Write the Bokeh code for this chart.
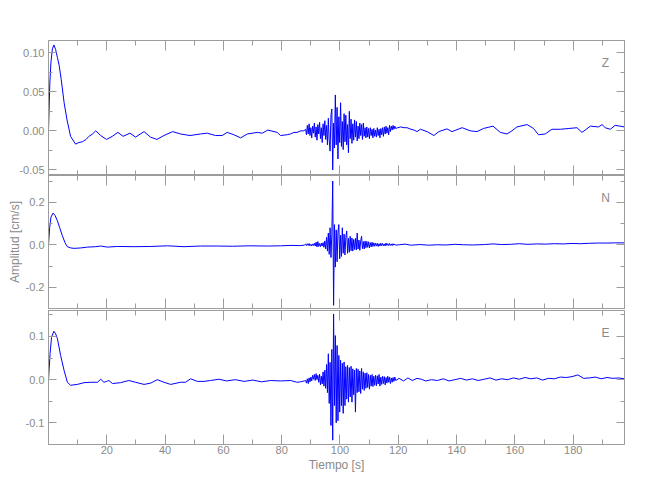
from bokeh.plotting import figure
from bokeh.layouts import column
from bokeh.models import (Range1d, LinearAxis, SingleIntervalTicker, PrintfTickFormatter,
                          CustomJSTickFormatter, Label)
from bokeh.embed import file_html
from bokeh.resources import INLINE

TITLE = "SISH"
X_LABEL = "Tiempo [s]"
Y_LABEL = "Amplitud [cm/s]"
COMPONENTS = ["Z", "N", "E"]

# ---- shared burst time samples (s) ----
burst_t = [88.2, 88.5, 88.8, 89.1, 89.4, 89.7, 90.0, 90.3, 90.6, 90.9,
           91.2, 91.5, 91.8, 92.1, 92.4, 92.7, 93.0, 93.3, 93.6, 93.9,
           94.2, 94.5, 94.8, 95.1, 95.4, 95.7, 96.0, 96.3, 96.6, 96.9,
           97.2, 97.5, 97.8, 98.1, 98.4, 98.7, 99.0, 99.3, 99.6, 99.9,
           100.2, 100.5, 100.8, 101.1, 101.4, 101.7, 102.0, 102.3, 102.6, 102.9,
           103.2, 103.5, 103.8, 104.1, 104.4, 104.7, 105.0, 105.3, 105.6, 105.9,
           106.2, 106.5, 106.8, 107.1, 107.4, 107.7, 108.0, 108.3, 108.6, 108.9,
           109.2, 109.5, 109.8, 110.1, 110.4, 110.7, 111.0, 111.3, 111.6, 111.9,
           112.2, 112.5, 112.8, 113.1, 113.4, 113.7, 114.0, 114.3, 114.6, 114.9,
           115.2, 115.5, 115.8, 116.1, 116.4, 116.7, 117.0, 117.3, 117.6, 117.9,
           118.2, 118.5, 118.8, 119.1]

# ---- Z component ----
z_pre_t = [0.0, 0.44, 0.84, 1.34, 1.85, 2.45, 3.05, 3.65, 4.36, 5.36, 6.36, 7.57, 9.28, 10.38,
           11.59, 12.89, 13.9, 15.1, 16.2, 17.9, 19.9, 21.9, 23.8, 25.6, 27.95, 29.86, 32.77,
           34.98, 37.19, 39.6, 42.6, 45.3, 48.54, 52.15, 54.46, 57.27, 59.58, 61.29, 63.6,
           65.9, 68.22, 71.63, 73.34, 75.25, 78.46, 79.57, 81.88, 82.98, 84.2, 85.3, 86.6, 87.6]
z_pre_v = [0.0, 0.06, 0.088, 0.105, 0.110, 0.104, 0.094, 0.084, 0.066, 0.036, 0.014, -0.007,
           -0.017, -0.015, -0.014, -0.011, -0.007, -0.004, 0.0, -0.006, -0.011, -0.007, -0.002,
           -0.007, -0.003, -0.008, -0.001, -0.008, -0.011, -0.006, -0.001, -0.004, -0.006,
           -0.004, -0.003, -0.006, -0.006, -0.002, -0.005, -0.009, -0.004, -0.002, -0.003,
           0.001, -0.002, -0.006, -0.005, -0.004, -0.002, -0.002, 0.0, 0.0]
z_burst_v = [0.002, -0.005, 0.007, -0.004, 0.009, -0.006, 0.004, -0.009, 0.006, -0.003,
             0.010, -0.008, 0.005, -0.012, 0.008, -0.004, 0.011, -0.010, 0.004, -0.015,
             0.009, -0.006, 0.013, -0.011, 0.007, -0.018, 0.016, -0.012, -0.026, 0.020,
             0.028, -0.050, 0.010, -0.022, 0.046, -0.018, 0.030, -0.036, 0.018, -0.015,
             0.036, -0.020, 0.012, -0.024, 0.022, -0.014, 0.020, -0.018, 0.008, -0.028,
             0.025, -0.010, 0.015, -0.016, 0.009, -0.012, 0.014, -0.008, 0.012, -0.013,
             0.006, -0.010, 0.010, -0.006, 0.008, -0.011, 0.010, -0.007, 0.004, -0.009,
             0.005, -0.008, 0.003, -0.010, 0.004, -0.006, 0.002, -0.009, 0.003, -0.007,
             0.001, -0.008, 0.004, -0.006, 0.002, -0.009, 0.003, -0.005, 0.004, -0.007,
             0.005, -0.004, 0.006, -0.003, 0.004, -0.005, 0.007, -0.001, 0.006, 0.001,
             0.007, 0.002, 0.006, 0.003]
z_post_t = [119.8, 120.8, 122.0, 123.0, 124.35, 125.4, 126.4, 127.6, 129.9, 132.2, 133.9,
            136.7, 138.4, 141.9, 144.7, 147.0, 149.2, 152.5, 155.0, 157.3, 159.0, 160.7,
            164.2, 166.4, 168.1, 170.4, 172.7, 175.6, 178.5, 181.3, 183.0, 185.9, 188.7,
            189.9, 191.0, 192.7, 194.4, 196.1, 197.5]
z_post_v = [0.004, 0.005, 0.004, 0.004, 0.002, 0.001, -0.001, 0.002, -0.001, -0.006, -0.001,
            0.0025, -0.001, 0.004, 0.0, -0.001, 0.003, 0.006, -0.002, -0.004, 0.0, 0.005,
            0.008, 0.003, -0.005, -0.004, 0.002, 0.002, 0.003, 0.004, -0.002, 0.006, 0.005,
            0.008, 0.004, 0.002, 0.007, 0.006, 0.005]

# ---- N component ----
n_pre_t = [0.0, 0.4, 0.84, 1.55, 2.25, 3.05, 3.85, 4.76, 5.66, 6.46, 7.67, 8.77, 11.08, 13.39,
           16.2, 17.9, 20.2, 23.6, 29.4, 35.1, 40.8, 46.5, 52.2, 57.9, 63.1, 69.1, 75.1, 79.6,
           83.2, 86.2, 87.7]
n_pre_v = [0.0, 0.08, 0.13, 0.149, 0.138, 0.113, 0.08, 0.042, 0.01, -0.009, -0.015, -0.017,
           -0.015, -0.011, -0.009, -0.006, -0.011, -0.008, -0.009, -0.008, -0.005, -0.009,
           -0.006, -0.006, -0.007, -0.005, -0.006, -0.005, -0.003, -0.004, -0.002]
n_burst_v = [0.003, -0.004, 0.005, -0.003, 0.006, -0.005, 0.002, -0.006, 0.004, -0.003,
             0.007, -0.006, 0.012, -0.010, 0.015, -0.008, 0.006, -0.009, 0.008, -0.006,
             0.010, -0.012, 0.018, -0.020, 0.035, -0.030, 0.055, -0.045, 0.080, -0.060,
             0.050, 0.300, -0.285, 0.095, -0.105, 0.070, -0.080, 0.060, 0.095, -0.066,
             0.045, -0.055, 0.080, -0.040, 0.050, -0.048, 0.035, 0.065, -0.040, 0.030,
             -0.035, 0.040, -0.028, 0.032, -0.030, 0.025, -0.022, 0.030, -0.025, 0.055,
             -0.020, 0.022, -0.026, 0.018, 0.040, -0.018, 0.015, -0.020, 0.018, -0.014,
             0.016, -0.012, 0.014, -0.015, 0.010, -0.010, 0.012, -0.008, 0.009, -0.007,
             0.008, -0.006, 0.007, -0.008, 0.005, -0.006, 0.007, -0.004, 0.006, -0.005,
             0.004, -0.006, 0.008, -0.003, 0.005, -0.004, 0.006, -0.003, 0.004, -0.004,
             0.005, -0.002, 0.003, -0.002]
n_post_t = [120.3, 122.3, 124.3, 127.4, 130.4, 133.4, 136.4, 139.4, 142.4, 145.4, 149.5,
            152.5, 155.5, 158.5, 161.5, 164.5, 167.5, 170.5, 173.5, 176.6, 179.6, 182.6,
            185.6, 188.6, 191.6, 194.6, 197.5]
n_post_v = [0.0, 0.003, -0.002, 0.001, -0.002, 0.0, -0.001, 0.002, 0.0, -0.001, 0.001, 0.004,
            0.001, 0.002, 0.005, 0.002, 0.004, 0.003, 0.005, 0.004, 0.006, 0.005, 0.007,
            0.008, 0.008, 0.009, 0.009]

# ---- E component ----
e_pre_t = [0.0, 0.54, 1.04, 1.85, 2.45, 3.05, 4.16, 5.36, 6.47, 7.57, 9.88, 12.19, 14.5,
           16.81, 17.91, 19.02, 19.92, 20.72, 21.93, 24.74, 27.55, 29.86, 32.77, 35.08,
           37.29, 39.6, 41.91, 45.33, 47.03, 48.74, 51.05, 53.36, 55.57, 58.48, 61.09, 64.1,
           67.1, 70.1, 73.1, 76.2, 79.6, 83.1, 85.2, 86.5, 87.7]
e_pre_v = [0.0, 0.06, 0.098, 0.112, 0.106, 0.095, 0.056, 0.021, -0.006, -0.013, -0.011,
           -0.007, -0.006, -0.006, 0.001, -0.006, -0.004, -0.002, -0.009, -0.007, -0.002,
           -0.006, -0.011, -0.008, 0.0, -0.006, -0.011, -0.006, -0.006, 0.002, -0.004,
           -0.004, -0.002, 0.001, -0.003, 0.0, -0.004, -0.001, -0.005, -0.002, -0.003,
           -0.002, -0.006, -0.005, -0.003]
e_burst_v = [-0.002, -0.008, 0.002, -0.009, 0.004, -0.005, 0.006, -0.003, 0.010, 0.001,
             0.012, -0.002, 0.014, 0.000, 0.010, -0.006, 0.013, -0.012, 0.008, -0.010,
             0.018, -0.015, 0.022, -0.020, 0.035, -0.030, 0.060, -0.055, 0.040, -0.106,
             0.070, -0.140, 0.152, -0.060, 0.102, -0.100, 0.079, -0.095, 0.056, -0.075,
             0.045, -0.060, 0.038, -0.078, 0.041, -0.060, 0.030, -0.045, 0.033, -0.052,
             0.028, -0.040, 0.031, -0.052, 0.025, -0.035, 0.022, -0.075, 0.026, -0.030,
             0.024, -0.028, 0.020, -0.032, 0.026, -0.022, 0.018, -0.025, 0.015, -0.020,
             0.016, -0.018, 0.012, -0.022, 0.010, -0.015, 0.012, -0.016, 0.008, -0.013,
             0.010, -0.014, 0.009, -0.010, 0.012, -0.015, 0.006, -0.011, 0.008, -0.009,
             0.007, -0.012, 0.005, -0.008, 0.008, -0.006, 0.006, -0.009, 0.004, -0.006,
             0.005, -0.004, 0.006, -0.002]
e_post_t = [120.3, 121.8, 123.3, 124.8, 126.4, 127.9, 129.4, 131.4, 133.4, 135.4, 137.4,
            139.4, 141.4, 143.4, 145.4, 147.4, 149.5, 151.5, 153.5, 155.5, 157.5, 159.5,
            161.5, 163.5, 165.5, 167.5, 169.5, 171.5, 173.5, 175.6, 177.6, 179.6, 181.6,
            183.6, 185.6, 187.6, 189.6, 191.6, 193.6, 195.6, 197.5]
e_post_v = [0.003, -0.003, 0.004, -0.002, 0.003, 0.001, -0.003, 0.0, -0.002, 0.002, -0.003,
            0.0, 0.003, -0.001, 0.002, -0.002, 0.001, 0.004, -0.001, 0.002, 0.0, 0.004, 0.001,
            0.005, 0.002, 0.004, -0.001, 0.003, 0.002, 0.006, 0.005, 0.007, 0.011, 0.003,
            0.004, 0.006, 0.002, 0.005, 0.003, 0.004, 0.002]

X_RANGE = (0.0, 197.6)
Y_RANGES = {"Z": (-0.0572, 0.1157), "N": (-0.300, 0.326), "E": (-0.150, 0.160)}
Y_STEPS = {"Z": 0.05, "N": 0.2, "E": 0.1}
Y_FORMATS = {"Z": "%.2f", "N": "%.1f", "E": "%.1f"}

AXIS_COLOR = "#9c9c9c"
TEXT_COLOR = "#8a8a8a"
LINE_COLOR = "#0000ff"
FONT = "Liberation Sans"

traces = {
    "Z": (z_pre_t + burst_t + z_post_t, z_pre_v + z_burst_v + z_post_v),
    "N": (n_pre_t + burst_t + n_post_t, n_pre_v + n_burst_v + n_post_v),
    "E": (e_pre_t + burst_t + e_post_t, e_pre_v + e_burst_v + e_post_v),
}

FRAME_W = 576
LEFT = 48
RIGHT = 18
# frame height, top border, bottom border for each panel
GEOM = {"Z": (135, 40, 0), "N": (133, 0, 2), "E": (134, 0, 40)}


def make_axis(ticker, formatter, show, tick_in, minor_in):
    ax = LinearAxis(ticker=ticker,
                    formatter=formatter if show else CustomJSTickFormatter(code="return ''"))
    ax.axis_line_color = AXIS_COLOR
    ax.major_tick_line_color = AXIS_COLOR
    ax.minor_tick_line_color = AXIS_COLOR
    ax.major_tick_in = tick_in
    ax.major_tick_out = 0
    ax.minor_tick_in = minor_in
    ax.minor_tick_out = 0
    ax.major_label_text_color = TEXT_COLOR
    ax.major_label_text_font = FONT
    ax.major_label_text_font_size = "11px" if show else "0px"
    ax.major_label_standoff = 4 if show else 0
    return ax


figs = []
for comp in COMPONENTS:
    fh, top, bottom = GEOM[comp]
    p = figure(width=LEFT + FRAME_W + RIGHT, height=top + fh + bottom,
               x_range=Range1d(*X_RANGE), y_range=Range1d(*Y_RANGES[comp]),
               x_axis_type=None, y_axis_type=None,
               output_backend="svg", toolbar_location=None,
               min_border_left=LEFT, min_border_right=RIGHT,
               min_border_top=top, min_border_bottom=bottom)
    p.outline_line_color = AXIS_COLOR
    p.xgrid.visible = False
    p.ygrid.visible = False
    p.background_fill_color = "white"
    p.border_fill_color = "white"

    show_x = comp == "E"
    bx = make_axis(SingleIntervalTicker(interval=20, num_minor_ticks=2),
                   PrintfTickFormatter(format="%d"), show_x, 10, 5)
    if show_x:
        bx.major_label_overrides = {0: ""}
        bx.major_label_standoff = 1
        bx.axis_label = X_LABEL
        bx.axis_label_standoff = 1
        bx.axis_label_text_font = FONT
        bx.axis_label_text_font_size = "12px"
        bx.axis_label_text_font_style = "normal"
        bx.axis_label_text_color = TEXT_COLOR
    p.add_layout(bx, "below")
    tx = make_axis(SingleIntervalTicker(interval=20, num_minor_ticks=2),
                   PrintfTickFormatter(format="%d"), False, 10, 5)
    p.add_layout(tx, "above")

    ly = make_axis(SingleIntervalTicker(interval=Y_STEPS[comp], num_minor_ticks=2),
                   PrintfTickFormatter(format=Y_FORMATS[comp]), True, 8, 4)
    if comp == "N":
        ly.axis_label = Y_LABEL
        ly.axis_label_standoff = 1
        ly.axis_label_text_font = FONT
        ly.axis_label_text_font_size = "12px"
        ly.axis_label_text_font_style = "normal"
        ly.axis_label_text_color = TEXT_COLOR
    p.add_layout(ly, "left")
    ry = make_axis(SingleIntervalTicker(interval=Y_STEPS[comp], num_minor_ticks=2),
                   PrintfTickFormatter(format=Y_FORMATS[comp]), False, 8, 4)
    p.add_layout(ry, "right")

    t, v = traces[comp]
    p.line(t, v, line_color=LINE_COLOR, line_width=1)

    p.add_layout(Label(x=FRAME_W - 19, y=fh - 22, x_units="screen", y_units="screen",
                       text=comp, text_align="center", text_baseline="middle",
                       text_font=FONT, text_font_size="12px", text_color=TEXT_COLOR))
    if comp == "Z":
        p.add_layout(Label(x=FRAME_W / 2, y=fh + 26, x_units="screen", y_units="screen",
                           text=TITLE, text_align="center", text_baseline="middle",
                           text_font=FONT, text_font_size="15px", text_color=TEXT_COLOR))
    figs.append(p)

layout = column(*figs, spacing=0)
open("out.html", "w").write(file_html(layout, INLINE))
